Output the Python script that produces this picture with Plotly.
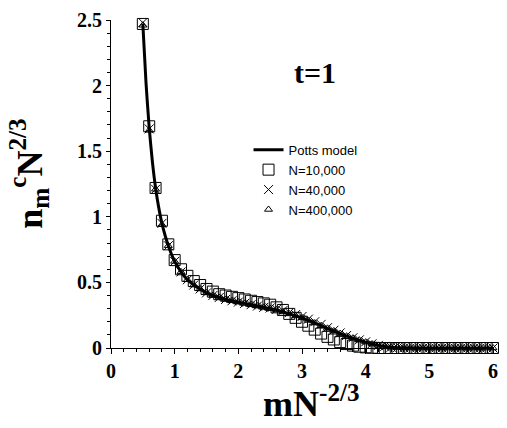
import plotly.graph_objects as go

# Potts model curve
potts_x = [0.5, 0.55, 0.6, 0.65, 0.7, 0.75, 0.8, 0.9, 1.0, 1.1, 1.2, 1.3, 1.4, 1.5, 1.6, 1.8,
           2.0, 2.2, 2.4, 2.6, 2.8, 3.0, 3.2, 3.4, 3.6, 3.8, 4.0, 4.2, 4.4, 4.6, 5.0, 5.5, 6.0]
potts_y = [2.47, 2.02, 1.68, 1.42, 1.22, 1.07, 0.95, 0.78, 0.66, 0.58, 0.52, 0.48, 0.45, 0.42,
           0.40, 0.37, 0.35, 0.33, 0.31, 0.29, 0.26, 0.23, 0.19, 0.15, 0.11, 0.075, 0.045, 0.02,
           0.006, 0.001, 0.0, 0.0, 0.0]

# simulation points (shared m N^-2/3 grid)
sim_x = [0.5, 0.6, 0.7, 0.8, 0.9, 1.0, 1.1, 1.2, 1.3, 1.4, 1.5, 1.6, 1.7, 1.8, 1.9, 2.0,
         2.1, 2.2, 2.3, 2.4, 2.5, 2.6, 2.7, 2.8, 2.9, 3.0, 3.1, 3.2, 3.3, 3.4, 3.5, 3.6,
         3.7, 3.8, 3.9, 4.0, 4.1, 4.2, 4.3, 4.4, 4.5, 4.6, 4.7, 4.8, 4.9, 5.0, 5.1, 5.2,
         5.3, 5.4, 5.5, 5.6, 5.7, 5.8, 5.9, 6.0]
n10k_y = [2.47, 1.69, 1.22, 0.97, 0.79, 0.67, 0.60, 0.55, 0.51, 0.48, 0.45, 0.43, 0.41, 0.40,
          0.39, 0.38, 0.37, 0.36, 0.35, 0.34, 0.33, 0.31, 0.29, 0.26, 0.23, 0.20, 0.17, 0.14,
          0.11, 0.085, 0.065, 0.045, 0.03, 0.018, 0.01, 0.005, 0.002, 0.0, 0.0, 0.0, 0.0, 0.0,
          0.0, 0.0, 0.0, 0.0, 0.0, 0.0, 0.0, 0.0, 0.0, 0.0, 0.0, 0.0, 0.0, 0.0]
n40k_y = [2.48, 1.67, 1.21, 0.95, 0.78, 0.66, 0.58, 0.52, 0.48, 0.45, 0.42, 0.40, 0.385, 0.37,
          0.36, 0.35, 0.34, 0.33, 0.32, 0.31, 0.305, 0.295, 0.285, 0.27, 0.255, 0.24, 0.22, 0.20,
          0.18, 0.155, 0.135, 0.115, 0.095, 0.078, 0.062, 0.047, 0.032, 0.02, 0.012, 0.006,
          0.003, 0.001, 0.0, 0.0, 0.0, 0.0, 0.0, 0.0, 0.0, 0.0, 0.0, 0.0, 0.0, 0.0, 0.0, 0.0]
n400k_y = [2.46, 1.66, 1.21, 0.94, 0.78, 0.66, 0.58, 0.52, 0.48, 0.45, 0.42, 0.40, 0.385, 0.37,
           0.36, 0.35, 0.34, 0.33, 0.32, 0.31, 0.30, 0.29, 0.275, 0.26, 0.245, 0.23, 0.21, 0.19,
           0.17, 0.15, 0.13, 0.11, 0.09, 0.075, 0.06, 0.045, 0.03, 0.02, 0.012, 0.006, 0.003,
           0.001, 0.0, 0.0, 0.0, 0.0, 0.0, 0.0, 0.0, 0.0, 0.0, 0.0, 0.0, 0.0, 0.0, 0.0]

x_ticks = [0, 1, 2, 3, 4, 5, 6]
x_tick_text = ["0", "1", "2", "3", "4", "5", "6"]
y_ticks = [0, 0.5, 1, 1.5, 2, 2.5]
y_tick_text = ["0", "0.5", "1", "1.5", "2", "2.5"]

fig = go.Figure()
fig.add_trace(go.Scatter(x=sim_x, y=n10k_y, mode="markers", name="N=10,000",
                         marker=dict(symbol="square-open", size=11, color="black",
                                     line=dict(width=1, color="black")),
                         cliponaxis=False, legendrank=2))
fig.add_trace(go.Scatter(x=sim_x, y=n40k_y, mode="markers", name="N=40,000",
                         marker=dict(symbol="x-thin-open", size=9, color="black",
                                     line=dict(width=1, color="black")),
                         cliponaxis=False, legendrank=3))
fig.add_trace(go.Scatter(x=sim_x, y=n400k_y, mode="markers", name="N=400,000",
                         marker=dict(symbol="triangle-up-open", size=7, color="black",
                                     line=dict(width=1, color="black")),
                         cliponaxis=False, legendrank=4))
fig.add_trace(go.Scatter(x=potts_x, y=potts_y, mode="lines", name="Potts model",
                         line=dict(color="black", width=3, shape="spline", smoothing=0.6),
                         cliponaxis=False, legendrank=1))

title_font = dict(family="Liberation Serif", size=36, color="black")

fig.add_annotation(text="<b>t=1</b>", x=0.535, y=0.895, xref="paper", yref="paper",
                   showarrow=False, font=dict(family="Liberation Serif", size=30, color="black"))
# axis titles placed as annotations to match the reference position
fig.add_annotation(text="<b>mN<sup>-2/3</sup></b>", x=0.525, y=-0.162, xref="paper",
                   yref="paper", xanchor="center", yanchor="middle", showarrow=False,
                   font=title_font)
fig.add_annotation(text="<b>n<sub>m</sub><sup>c</sup>N<sup>2/3</sup></b>", x=-0.213, y=0.53,
                   xref="paper", yref="paper", xanchor="center", yanchor="middle",
                   textangle=-90, showarrow=False, font=title_font)

tick_font = dict(family="Liberation Serif", size=20, color="black", weight="bold")

fig.update_layout(
    width=507, height=428,
    margin=dict(l=111, r=9, t=20, b=80),
    paper_bgcolor="white", plot_bgcolor="white",
    showlegend=True,
    legend=dict(x=0.36, y=0.65, xanchor="left", yanchor="top",
                font=dict(family="Liberation Sans", size=13, color="black"),
                bgcolor="rgba(0,0,0,0)", tracegroupgap=0, itemwidth=30),
    xaxis=dict(range=[0, 6], tickvals=x_ticks, ticktext=x_tick_text, showline=True,
               linecolor="black", linewidth=1,
               ticks="outside", ticklen=5, tickcolor="black", showgrid=False, zeroline=False,
               tickfont=tick_font,
               minor=dict(dtick=0.2, ticks="outside", ticklen=3, tickcolor="black")),
    yaxis=dict(range=[0, 2.5], tickvals=y_ticks, ticktext=y_tick_text, showline=True,
               linecolor="black", linewidth=1, ticks="outside", ticklen=4, tickcolor="black",
               showgrid=False, zeroline=False,
               tickfont=tick_font,
               minor=dict(dtick=0.1, ticks="outside", ticklen=3, tickcolor="black")),
)

fig.write_html("out.html")
